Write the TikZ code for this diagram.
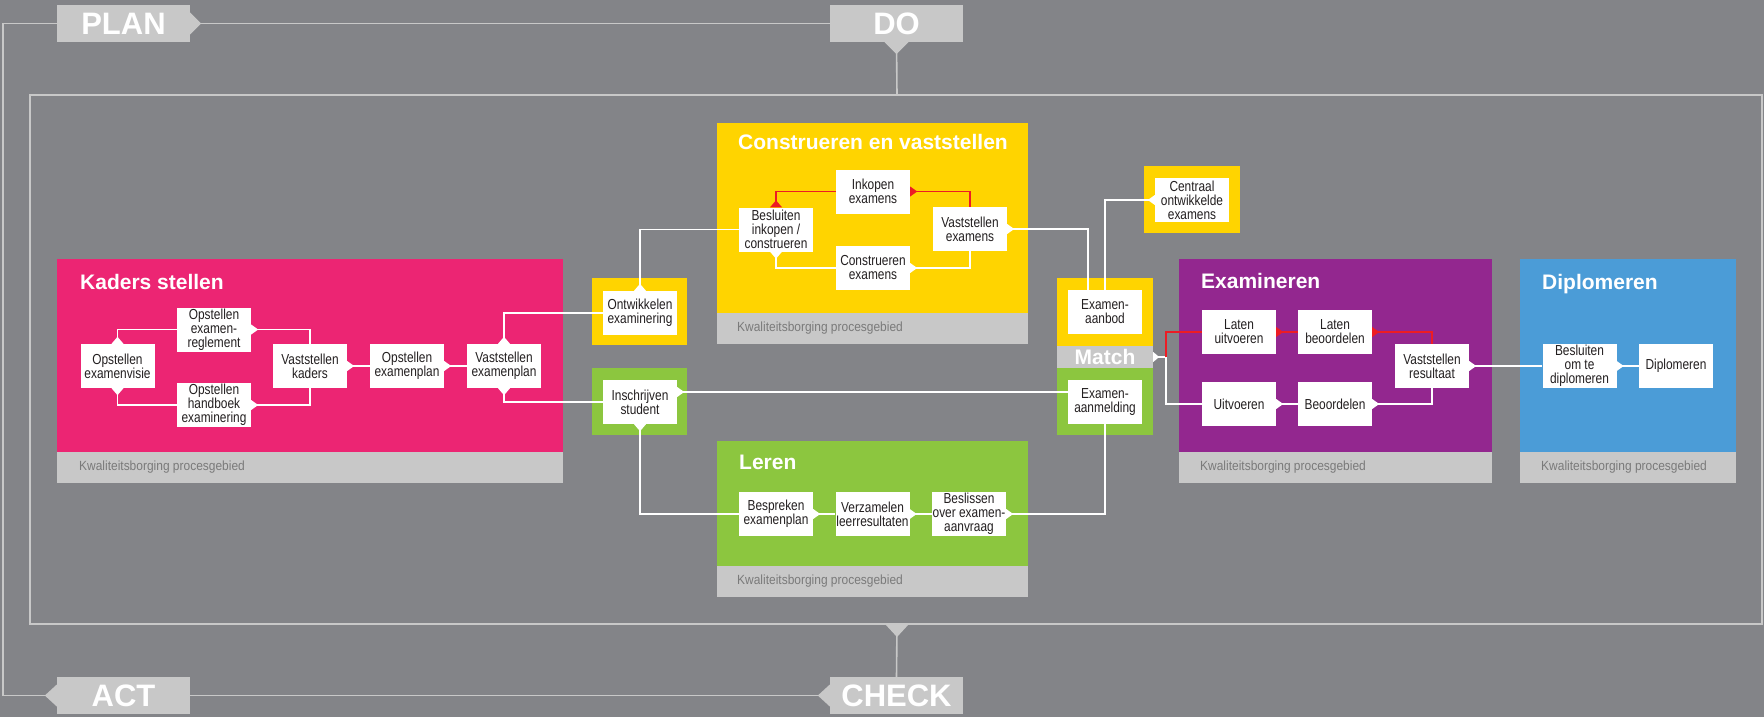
\documentclass[tikz,border=0pt]{standalone}
\usepackage{fontspec}
\setmainfont{Liberation Sans}
\newfontfamily\condfont{Liberation Sans}[FakeStretch=0.82]
\newfontfamily\footfont{Liberation Sans}[FakeStretch=0.9]
\usetikzlibrary{calc}
\definecolor{bg}{HTML}{838488}
\definecolor{lgray}{HTML}{C8C8C8}
\definecolor{pinkc}{HTML}{EC2573}
\definecolor{yellowc}{HTML}{FFD400}
\definecolor{greenc}{HTML}{8CC63F}
\definecolor{purplec}{HTML}{93278F}
\definecolor{bluec}{HTML}{4B9CD7}
\definecolor{redc}{HTML}{ED1C24}
\definecolor{ftext}{HTML}{7A7A7A}
\definecolor{ntext}{HTML}{231F20}
\tikzset{
  proc/.style={fill=white, minimum width=74pt, minimum height=44pt, inner sep=0pt, align=center, text=ntext, font=\condfont\fontsize{14.5}{14}\selectfont},
  wline/.style={draw=white, line width=1.2pt},
  rline/.style={draw=redc, line width=1.2pt},
  gline/.style={draw=lgray, line width=1.6pt},
  pdca/.style={fill=lgray, minimum width=133pt, minimum height=37pt, inner sep=0pt, text=white, font=\bfseries\fontsize{31}{31}\selectfont},
  ptitle/.style={anchor=base west, inner sep=0pt, text=white, font=\bfseries\fontsize{21}{21}\selectfont},
  ftitle/.style={anchor=west, inner sep=0pt, text=ftext, font=\footfont\fontsize{13.3}{14}\selectfont},
}
\newcommand\ptrE[2][white]{\fill[#1] ([yshift=5pt]#2) -- ([xshift=7pt]#2) -- ([yshift=-5pt]#2) -- cycle;}
\newcommand\ptrW[2][white]{\fill[#1] ([yshift=5pt]#2) -- ([xshift=-7pt]#2) -- ([yshift=-5pt]#2) -- cycle;}
\newcommand\ptrN[2][white]{\fill[#1] ([xshift=-6pt]#2) -- ([yshift=7pt]#2) -- ([xshift=6pt]#2) -- cycle;}
\newcommand\ptrS[2][white]{\fill[#1] ([xshift=-6pt]#2) -- ([yshift=-7pt]#2) -- ([xshift=6pt]#2) -- cycle;}
\begin{document}
\begin{tikzpicture}[x=1pt,y=-1pt]
\useasboundingbox (0,0) rectangle (1764,717);
\fill[bg] (0,0) rectangle (1764,717);
% outer frame
\draw[lgray, line width=2pt] (30,95) rectangle (1762,624);
\coordinate (ftop) at (897,95);
\coordinate (fbot) at (897,624);
\coordinate (lx) at (3,0);
% PDCA labels
\node[pdca] (plan) at (123.5,23.5) {PLAN};
\node[pdca] (do) at (896.5,23.5) {DO};
\node[pdca] (act) at (123.5,695.5) {ACT};
\node[pdca] (check) at (896.5,695.5) {CHECK};
\draw[gline] (plan.east) -- (do.west);
\draw[gline] (do.south) -- (ftop);
\draw[gline] (fbot) -- (check.north);
\draw[gline] (check.west) -- (act.east);
\draw[gline] (act.west) -- (act.west -| lx) |- (plan.west);
\fill[lgray] ([yshift=11pt]plan.east) -- ([xshift=11pt]plan.east) -- ([yshift=-11pt]plan.east) -- cycle;
\fill[lgray] ([xshift=-12pt]do.south) -- ([yshift=-12pt]do.south) -- ([xshift=12pt]do.south) -- cycle;
\fill[lgray] ([xshift=-12pt]fbot) -- ([yshift=-13pt]fbot) -- ([xshift=12pt]fbot) -- cycle;
\fill[lgray] ([yshift=11pt]check.west) -- ([xshift=-12pt]check.west) -- ([yshift=-11pt]check.west) -- cycle;
\fill[lgray] ([yshift=11pt]act.west) -- ([xshift=-12pt]act.west) -- ([yshift=-11pt]act.west) -- cycle;
% panels
\fill[pinkc] (57,259) rectangle (563,452); \fill[lgray] (57,452) rectangle (563,483);
\fill[yellowc] (717,123) rectangle (1028,313); \fill[lgray] (717,313) rectangle (1028,344);
\fill[greenc] (717,441) rectangle (1028,566); \fill[lgray] (717,566) rectangle (1028,597);
\fill[purplec] (1179,259) rectangle (1492,452); \fill[lgray] (1179,452) rectangle (1492,483);
\fill[bluec] (1520,259) rectangle (1736,452); \fill[lgray] (1520,452) rectangle (1736,483);
\fill[yellowc] (592,278) rectangle (687,345);
\fill[greenc] (592,368) rectangle (687,435);
\fill[yellowc] (1144,166) rectangle (1240,233);
\fill[yellowc] (1057,278) rectangle (1153,346);
\fill[greenc] (1057,368) rectangle (1153,435);
\node[fill=lgray, minimum width=96pt, minimum height=22pt, inner sep=0pt] (match) at (1105,357) {};
\node[anchor=base, inner sep=0pt, text=white, font=\bfseries\fontsize{21}{21}\selectfont] (matcht) at (1105,364.5) {Match};
% titles
\node[ptitle] (tk) at (80,289) {Kaders stellen};
\node[ptitle] (tc) at (738,149) {Construeren en vaststellen};
\node[ptitle] (tl) at (739,469) {Leren};
\node[ptitle] (te) at (1201,288) {Examineren};
\node[ptitle] (td) at (1542,289) {Diplomeren};
\node[ftitle] (f1) at (79,467.5) {Kwaliteitsborging procesgebied};
\node[ftitle] (f2) at (737,328.5) {Kwaliteitsborging procesgebied};
\node[ftitle] (f3) at (737,581.5) {Kwaliteitsborging procesgebied};
\node[ftitle] (f4) at (1200,467.5) {Kwaliteitsborging procesgebied};
\node[ftitle] (f5) at (1541,467.5) {Kwaliteitsborging procesgebied};
% process nodes
\node[proc] (visie) at (117.5,366) {Opstellen\\examenvisie};
\node[proc] (regl) at (214,329.5) {Opstellen\\examen-\\reglement};
\node[proc] (handb) at (214,405) {Opstellen\\handboek\\examinering};
\node[proc] (vkad) at (310,366) {Vaststellen\\kaders};
\node[proc] (oplan) at (407,366) {Opstellen\\examenplan};
\node[proc] (vplan) at (504,366) {Vaststellen\\examenplan};
\node[proc] (ontw) at (640,313) {Ontwikkelen\\examinering};
\node[proc] (insch) at (640,402) {Inschrijven\\student};
\node[proc] (besl) at (776,229.5) {Besluiten\\inkopen /\\construeren};
\node[proc] (inkop) at (873,191.5) {Inkopen\\examens};
\node[proc] (constr) at (873,268) {Construeren\\examens};
\node[proc] (vexam) at (970,229) {Vaststellen\\examens};
\node[proc] (centr) at (1192,200) {Centraal\\ontwikkelde\\examens};
\node[proc] (aanbod) at (1105,312) {Examen-\\aanbod};
\node[proc] (aanmeld) at (1105,402) {Examen-\\aanmelding};
\node[proc] (bespr) at (776,514) {Bespreken\\examenplan};
\node[proc] (verz) at (872.5,514) {Verzamelen\\leerresultaten};
\node[proc] (beslis) at (969,514) {Beslissen\\over examen-\\aanvraag};
\node[proc] (latu) at (1239,332) {Laten\\uitvoeren};
\node[proc] (latb) at (1335,332) {Laten\\beoordelen};
\node[proc] (uitv) at (1239,404) {Uitvoeren};
\node[proc] (beoo) at (1335,404) {Beoordelen};
\node[proc] (vres) at (1432,366) {Vaststellen\\resultaat};
\node[proc] (bomd) at (1579.5,366) {Besluiten\\om te\\diplomeren};
\node[proc] (dipl) at (1676,366) {Diplomeren};
\coordinate (inschp) at ([yshift=10pt]insch.east);
\coordinate (aanmp) at ([yshift=10pt]aanmeld.west);
% connectors: Kaders stellen
\draw[wline] (visie.north) |- (regl.west);
\draw[wline] (visie.south) |- (handb.west);
\draw[wline] (regl.east) -| (vkad.north);
\draw[wline] (handb.east) -| (vkad.south);
\draw[wline] (vkad.east) -- (oplan.west);
\draw[wline] (oplan.east) -- (vplan.west);
\draw[wline] (vplan.north) |- (ontw.west);
\draw[wline] (vplan.south) |- (insch.west);
\ptrN{visie.north} \ptrS{visie.south} \ptrE{regl.east} \ptrE{handb.east}
\ptrE{vkad.east} \ptrE{oplan.east} \ptrN{vplan.north} \ptrS{vplan.south}
% Construeren
\draw[wline] (ontw.north) |- (besl.west);
\draw[rline] (besl.north) |- (inkop.west);
\draw[rline] (inkop.east) -| (vexam.north);
\draw[wline] (besl.south) |- (constr.west);
\draw[wline] (constr.east) -| (vexam.south);
\draw[wline] (vexam.east) -| ([xshift=-17pt]aanbod.north);
\draw[wline] (centr.west) -| (aanbod.north);
\ptrN{ontw.north} \ptrN[redc]{besl.north} \ptrE[redc]{inkop.east} \ptrS{besl.south}
\ptrE{constr.east} \ptrE{vexam.east} \ptrW{centr.west}
% Leren
\draw[wline] (inschp) -- (aanmp);
\draw[wline] (insch.south) |- (bespr.west);
\draw[wline] (bespr.east) -- (verz.west);
\draw[wline] (verz.east) -- (beslis.west);
\draw[wline] (beslis.east) -| (aanmeld.south);
\ptrE{inschp} \ptrS{insch.south} \ptrE{bespr.east} \ptrE{verz.east} \ptrE{beslis.east}
% Examineren
\coordinate (mj) at (1166,357);
\draw[wline] (match.east) -- (mj) |- (uitv.west);
\draw[rline] (mj) |- (latu.west);
\draw[rline] (latu.east) -- (latb.west);
\draw[rline] (latb.east) -| (vres.north);
\draw[wline] (uitv.east) -- (beoo.west);
\draw[wline] (beoo.east) -| (vres.south);
\draw[wline] (vres.east) -- (bomd.west);
\draw[wline] (bomd.east) -- (dipl.west);
\fill[white] ([yshift=5pt]match.east) -- ([xshift=6pt]match.east) -- ([yshift=-5pt]match.east) -- cycle;
\ptrE[redc]{latu.east} \ptrE[redc]{latb.east} \ptrE{uitv.east} \ptrE{beoo.east}
\ptrE{vres.east} \ptrE{bomd.east}
\end{tikzpicture}
\end{document}
